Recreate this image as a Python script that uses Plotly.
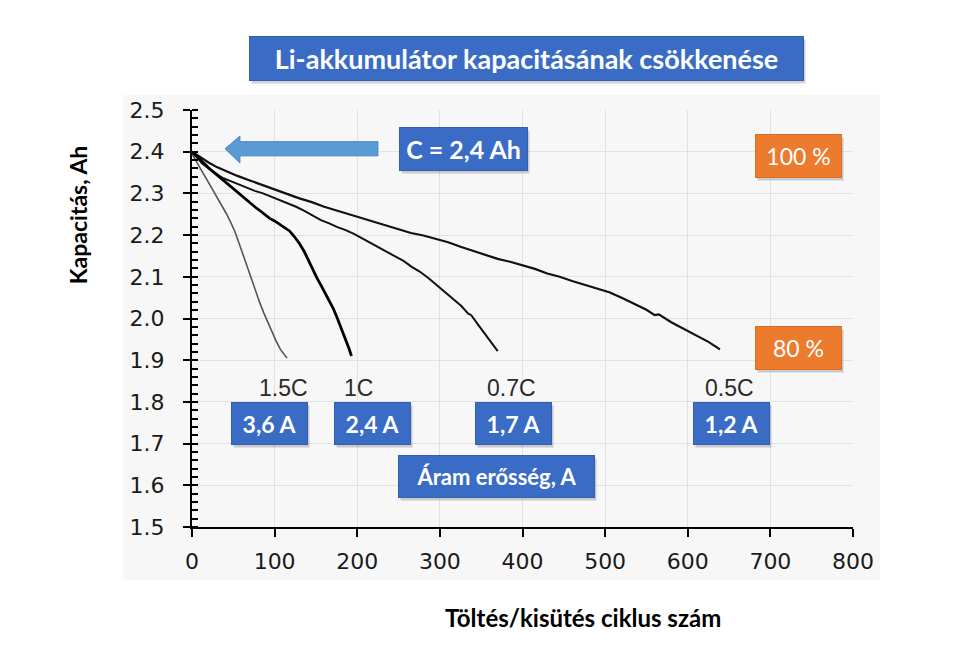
import plotly.graph_objects as go

# ---- data ----
x_15C = [0, 4, 8, 13, 18, 24, 30, 36, 42, 47, 52, 56, 60, 64, 68, 72, 77, 82, 87, 92, 97, 102, 107, 111, 115]
y_15C = [2.395, 2.380, 2.366, 2.350, 2.333, 2.313, 2.293, 2.272, 2.250, 2.230, 2.208, 2.186, 2.163, 2.140,
         2.115, 2.090, 2.063, 2.038, 2.013, 1.990, 1.967, 1.945, 1.926, 1.914, 1.905]

x_1C = [0, 5, 10, 16, 22, 28, 34, 40, 46, 52, 58, 64, 70, 76, 82, 88, 94, 100, 106, 112, 118, 124, 130,
        136, 141, 146, 151, 156, 161, 166, 171, 176, 181, 186, 190, 193]
y_1C = [2.400, 2.390, 2.380, 2.369, 2.358, 2.348, 2.338, 2.327, 2.316, 2.306, 2.296, 2.287, 2.278, 2.268,
        2.259, 2.250, 2.240, 2.234, 2.226, 2.218, 2.210, 2.196, 2.180, 2.160, 2.138, 2.116, 2.098, 2.080,
        2.062, 2.044, 2.024, 2.000, 1.975, 1.950, 1.928, 1.910]

x_07C = [0, 6, 12, 20, 28, 36, 46, 56, 66, 76, 86, 96, 106, 116, 126, 136, 146, 156, 166, 176, 186, 196,
         206, 216, 226, 236, 246, 256, 266, 276, 286, 296, 306, 316, 326, 334, 338, 346, 356, 364, 370]
y_07C = [2.400, 2.385, 2.372, 2.360, 2.349, 2.338, 2.330, 2.322, 2.313, 2.306, 2.300, 2.292, 2.284, 2.276,
         2.268, 2.258, 2.246, 2.236, 2.228, 2.219, 2.212, 2.203, 2.192, 2.181, 2.171, 2.160, 2.150, 2.138,
         2.124, 2.112, 2.097, 2.080, 2.063, 2.047, 2.030, 2.012, 2.008, 1.986, 1.960, 1.940, 1.922]

x_05C = [0, 10, 20, 30, 40, 55, 70, 85, 100, 115, 130, 145, 160, 175, 190, 205, 220, 235, 250, 265, 280,
         295, 310, 325, 340, 355, 370, 385, 400, 415, 430, 445, 460, 475, 490, 505, 520, 535, 550, 560,
         565, 580, 595, 610, 625, 639]
y_05C = [2.400, 2.386, 2.374, 2.363, 2.354, 2.342, 2.331, 2.320, 2.309, 2.299, 2.288, 2.279, 2.268, 2.259,
         2.250, 2.241, 2.232, 2.222, 2.213, 2.205, 2.199, 2.191, 2.183, 2.172, 2.162, 2.153, 2.143, 2.136,
         2.128, 2.119, 2.108, 2.100, 2.090, 2.081, 2.072, 2.063, 2.050, 2.036, 2.021, 2.008, 2.010, 1.991,
         1.975, 1.960, 1.944, 1.926]

rate_labels = ["1.5C", "1C", "0.7C", "0.5C"]
current_labels = ["3,6 A", "2,4 A", "1,7 A", "1,2 A"]

title_text = "Li-akkumulátor kapacitásának csökkenése"
capacity_text = "C = 2,4 Ah"
pct_labels = ["100 %", "80 %"]
current_title = "Áram erősség, A"
x_title = "Töltés/kisütés ciklus szám"
y_title = "Kapacitás, Ah"

y_ticks = [1.5, 1.6, 1.7, 1.8, 1.9, 2.0, 2.1, 2.2, 2.3, 2.4, 2.5]
x_ticks = [0, 100, 200, 300, 400, 500, 600, 700, 800]

# ---- figure ----
# page body has an 8px margin, so the figure is 8px smaller on each axis
W, H = 957, 651
L, R, T, B = 184, 112, 102, 132

fig = go.Figure()
fig.add_trace(go.Scatter(x=x_15C, y=y_15C, mode="lines", line=dict(color="#555555", width=1.6),
                         showlegend=False, hoverinfo="skip"))
fig.add_trace(go.Scatter(x=x_07C, y=y_07C, mode="lines", line=dict(color="#111111", width=2.0),
                         showlegend=False, hoverinfo="skip"))
fig.add_trace(go.Scatter(x=x_05C, y=y_05C, mode="lines", line=dict(color="#111111", width=2.2),
                         showlegend=False, hoverinfo="skip"))
fig.add_trace(go.Scatter(x=x_1C, y=y_1C, mode="lines", line=dict(color="#000000", width=2.8),
                         showlegend=False, hoverinfo="skip"))

BOX_FONT = "Lato, 'Open Sans', sans-serif"
BLUE = "#3a6cc6"
BLUE_EDGE = "#3160b3"
ORANGE = "#ec7b2e"
ORANGE_EDGE = "#de6d20"

annotations = []


def box(text, x, y, w, h, color, edge, size, bold=True, xref="x", yref="y"):
    shadow = dict(text="", x=x, y=y, xref=xref, yref=yref, xanchor="center", yanchor="middle",
                  showarrow=False, width=w, height=h,
                  bgcolor="rgba(0,0,0,0.18)", borderpad=0, xshift=2, yshift=-3)
    label = dict(text=("<b>%s</b>" % text) if bold else text, x=x, y=y, xref=xref, yref=yref,
                 xanchor="center", yanchor="middle",
                 showarrow=False, width=w, height=h, bgcolor=color, bordercolor=edge, borderwidth=1,
                 borderpad=0, align="center", valign="middle",
                 font=dict(family=BOX_FONT, size=size, color="white"))
    annotations.extend([shadow, label])


# title box (paper coords)
box(title_text, 0.506, 1.1235, 553, 43, BLUE, BLUE_EDGE, 27, xref="paper", yref="paper")
# capacity box
box(capacity_text, 328.6, 2.406, 127, 42, BLUE, BLUE_EDGE, 25)
# percentage boxes
box(pct_labels[0], 734, 2.390, 85, 42, ORANGE, ORANGE_EDGE, 23, bold=False)
box(pct_labels[1], 734, 1.929, 85, 42, ORANGE, ORANGE_EDGE, 23, bold=False)
# current boxes
for txt, xc in zip(current_labels, [93.8, 218.5, 389.7, 653]):
    box(txt, xc, 1.748, 75, 41, BLUE, BLUE_EDGE, 23)
box(current_title, 368.5, 1.621, 195, 41, BLUE, BLUE_EDGE, 22)

# C-rate labels
for txt, xc in zip(rate_labels, [111.3, 201, 387, 650]):
    annotations.append(dict(text=txt, x=xc, y=1.833, xref="x", yref="y", showarrow=False,
                            xanchor="center", yanchor="middle",
                            font=dict(family="Liberation Sans, Arial, sans-serif", size=23, color="#2a2a2a")))

# axis titles
annotations.append(dict(text="<b>%s</b>" % y_title, x=-0.1725, y=0.75, xref="paper", yref="paper",
                        xanchor="center", yanchor="middle",
                        showarrow=False, textangle=-90,
                        font=dict(family=BOX_FONT, size=23, color="#000000")))
annotations.append(dict(text="<b>%s</b>" % x_title, x=0.5915, y=-0.216, xref="paper", yref="paper",
                        xanchor="center", yanchor="middle",
                        showarrow=False, font=dict(family=BOX_FONT, size=24, color="#000000")))

# block arrow pointing to 2.4 Ah
arrow_path = ("M 40 2.407 L 58 2.4375 L 58 2.424 L 225 2.424 L 225 2.390 "
              "L 58 2.390 L 58 2.373 Z")
shapes = [
    dict(type="rect", xref="paper", yref="paper", x0=-0.104, x1=1.041, y0=-0.127, y1=1.036,
         fillcolor="#f7f7f7", line=dict(width=0), layer="below"),
    dict(type="path", xref="x", yref="y", path=arrow_path, fillcolor="#5b9bd5",
         line=dict(color="#4a86c0", width=1), layer="above"),
]

TICK_FONT = dict(family="DejaVu Sans, Verdana, sans-serif", size=22, color="#1a1a1a")

fig.update_layout(
    width=W, height=H, autosize=False,
    margin=dict(l=L, r=R, t=T, b=B, pad=0),
    paper_bgcolor="white", plot_bgcolor="rgba(0,0,0,0)",
    annotations=annotations, shapes=shapes,
    xaxis=dict(range=[0, 800], tickvals=x_ticks, showgrid=True, gridcolor="#e2e2e2", gridwidth=1,
               zeroline=False, showline=True, linecolor="black", linewidth=2,
               ticks="outside", ticklen=8, tickwidth=2, tickcolor="black",
               ticklabelstandoff=6, tickfont=TICK_FONT),
    yaxis=dict(range=[1.5, 2.5], tickvals=y_ticks, tickformat=".1f", showgrid=True, gridcolor="#e2e2e2",
               gridwidth=1, zeroline=False, showline=True, linecolor="black", linewidth=2,
               ticks="outside", ticklen=7, tickwidth=2, tickcolor="black",
               ticklabelstandoff=14,
               minor=dict(dtick=0.02, ticks="inside", ticklen=6, tickwidth=1.5, tickcolor="black",
                          showgrid=False),
               tickfont=TICK_FONT),
)

fig.write_html("out.html")
